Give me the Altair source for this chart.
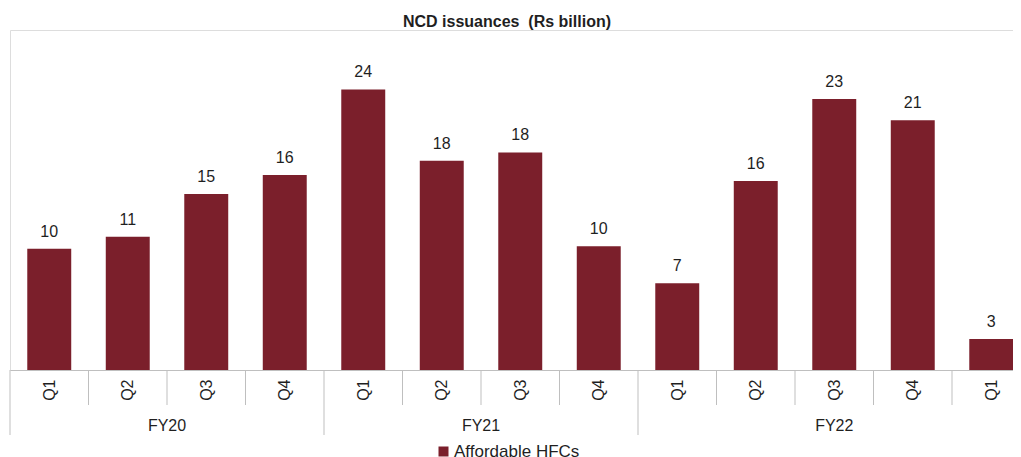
import altair as alt
import pandas as pd

# ---- data ----
quarters = ["Q1", "Q2", "Q3", "Q4", "Q1", "Q2", "Q3", "Q4", "Q1", "Q2", "Q3", "Q4", "Q1"]
fiscal_years = ["FY20", "FY20", "FY20", "FY20", "FY21", "FY21", "FY21", "FY21",
                "FY22", "FY22", "FY22", "FY22", "FY22"]
issuance = [10.2, 11.2, 14.8, 16.4, 23.6, 17.6, 18.3, 10.4, 7.3, 15.9, 22.8, 21.0, 2.6]
series_name = "Affordable HFCs"
title_text = "NCD issuances\u00a0 (Rs billion)"

BAR = "#7b1f2b"
LINE = "#bfbfbf"
TXT = "#1f1f1f"
FONT = "Liberation Sans"

n = len(quarters)
df = pd.DataFrame({
    "idx": list(range(n)),
    "quarter": quarters,
    "fy": fiscal_years,
    "value": issuance,
    "series": [series_name] * n,
})

# separators between category bands (long ones at fiscal-year boundaries)
sep_rows = []
for i in range(n):
    long_sep = (i == 0) or (fiscal_years[i] != fiscal_years[i - 1])
    sep_rows.append({"pos": i - 0.5, "kind": "long" if long_sep else "short"})
sep = pd.DataFrame(sep_rows)

fy_df = df.groupby("fy", as_index=False)["idx"].mean()

W, H = 1003, 340
xscale = alt.Scale(domain=[-0.5, 12.277], nice=False, zero=False)
yscale = alt.Scale(domain=[0, 28.6], nice=False)

label_expr = "[" + ",".join("'%s'" % q for q in quarters) + "][datum.value]"

base = alt.Chart(df)

bars = base.mark_bar(clip=True).transform_calculate(
    x0="datum.idx - 0.28", x1="datum.idx + 0.28"
).encode(
    x=alt.X("x0:Q", scale=xscale, title=None,
            axis=alt.Axis(values=list(range(n)), labelExpr=label_expr,
                          labelAngle=270, labelFontSize=16, labelColor=TXT,
                          labelFont=FONT, labelPadding=9, ticks=False, tickSize=0,
                          grid=False, domainColor=LINE, domainWidth=1,
                          labelFlush=False, labelOverlap=False)),
    x2="x1:Q",
    y=alt.Y("value:Q", scale=yscale, axis=None),
    y2=alt.datum(0),
    color=alt.Color("series:N",
                    scale=alt.Scale(domain=[series_name], range=[BAR]),
                    legend=alt.Legend(title=None, orient="none", legendX=425, legendY=413,
                                      symbolType="square", symbolSize=100,
                                      symbolStrokeWidth=0, labelFontSize=17,
                                      labelFont=FONT, labelColor=TXT, labelOffset=2,
                                      padding=0)),
)

values_txt = base.mark_text(baseline="alphabetic", dy=-12, fontSize=16,
                            font=FONT, color=TXT).encode(
    x=alt.X("idx:Q", scale=xscale),
    y=alt.Y("value:Q", scale=yscale),
    text=alt.Text("value:Q", format=".0f"),
)

short_sep = alt.Chart(sep).transform_filter("datum.kind == 'short'").mark_rule(
    color=LINE, strokeWidth=1).encode(
    x=alt.X("pos:Q", scale=xscale),
    y=alt.value(H), y2=alt.value(H + 35),
)
long_sep = alt.Chart(sep).transform_filter("datum.kind == 'long'").mark_rule(
    color=LINE, strokeWidth=1).encode(
    x=alt.X("pos:Q", scale=xscale),
    y=alt.value(H), y2=alt.value(H + 65),
)

fy_txt = alt.Chart(fy_df).mark_text(baseline="middle", fontSize=16, font=FONT,
                                    color=TXT).encode(
    x=alt.X("idx:Q", scale=xscale),
    y=alt.value(H + 56),
    text="fy:N",
)

chart = alt.layer(bars, values_txt, short_sep, long_sep, fy_txt).properties(
    width=W, height=H,
    autosize=alt.AutoSizeParams(type="none"),
    padding={"left": 2, "top": 22, "right": 0, "bottom": 87},
    title=alt.TitleParams(title_text, fontSize=16, font=FONT, fontWeight="bold",
                          color=TXT, anchor="middle", dx=-4.5, offset=0),
).configure_view(stroke=None).configure(background="white")

chart.save("out.html", embed_options={"renderer": "svg", "actions": False})
